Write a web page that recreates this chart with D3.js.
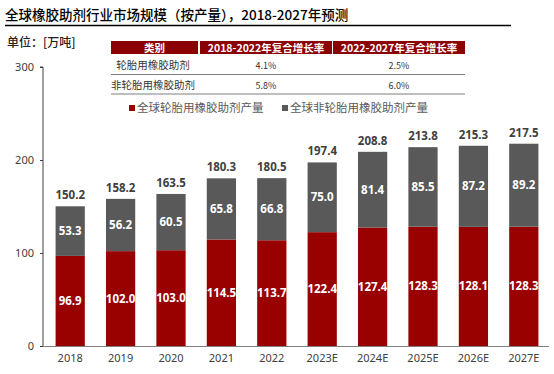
<!DOCTYPE html>
<html><head><meta charset="utf-8">
<script src="https://cdn.jsdelivr.net/npm/d3@7"></script>
<style>
body{margin:0;background:#fff;}
svg{display:block;font-family:"Noto Sans CJK SC","Noto Sans",sans-serif;}
</style></head><body>
<svg id="c" width="554" height="374"></svg>
<script>
const categories = ["2018","2019","2020","2021","2022","2023E","2024E","2025E","2026E","2027E"];
const tireValues = [96.9,102.0,103.0,114.5,113.7,122.4,127.4,128.3,128.1,128.3];
const nonTireValues = [53.3,56.2,60.5,65.8,66.8,75.0,81.4,85.5,87.2,89.2];
const totalValues = [150.2,158.2,163.5,180.3,180.5,197.4,208.8,213.8,215.3,217.5];
const yTicks = [0,100,200,300];
const seriesNames = ["全球轮胎用橡胶助剂产量","全球非轮胎用橡胶助剂产量"];
const tableHeader = ["类别","2018-2022年复合增长率","2022-2027年复合增长率"];
const tableRows = [["轮胎用橡胶助剂","4.1%","2.5%"],["非轮胎用橡胶助剂","5.8%","6.0%"]];

const RED="#990000", GREY="#595959";
const svg=d3.select("#c");

// title
svg.append("text").attr("x",5).attr("y",20).attr("font-size",13.5).attr("font-weight",500).attr("fill","#000")
  .text("全球橡胶助剂行业市场规模（按产量），2018-2027年预测");
svg.append("line").attr("x1",5).attr("x2",511).attr("y1",25.5).attr("y2",25.5).attr("stroke","#000").attr("stroke-width",1.5);
svg.append("text").attr("x",7).attr("y",47).attr("font-size",12).attr("font-weight",500).attr("fill","#222").text("单位：[万吨]");

// table
const colX=[[111,198],[200,332],[333,465]];
colX.forEach((c,i)=>{
  svg.append("rect").attr("x",c[0]).attr("y",41).attr("width",c[1]-c[0]).attr("height",13).attr("fill","#8B0000");
  svg.append("text").attr("x",(c[0]+c[1])/2).attr("y",51.5).attr("text-anchor","middle").attr("font-size",10.5)
    .attr("font-weight","bold").attr("fill","#fff").text(tableHeader[i]);
});
tableRows.forEach((r,j)=>{
  const yText=[69,89][j], yLine=[74.5,94][j];
  r.forEach((t,i)=>{
    svg.append("text").attr("x",i==0?153:(colX[i][0]+colX[i][1])/2).attr("y",yText).attr("text-anchor","middle")
      .attr("font-size",i==0?10.5:9).attr("fill","#333").text(t);
  });
  svg.append("line").attr("x1",111).attr("x2",465).attr("y1",yLine).attr("y2",yLine).attr("stroke","#7f7f7f").attr("stroke-width",1);
});

// legend
[[129,seriesNames[0],RED],[282,seriesNames[1],GREY]].forEach(([x,t,c])=>{
  svg.append("rect").attr("x",x).attr("y",105).attr("width",6).attr("height",6).attr("fill",c);
  svg.append("text").attr("x",x+8).attr("y",112).attr("font-size",11.5).attr("fill","#595959").text(t);
});

// scales
const x=d3.scaleBand().domain(categories).range([45,549]).paddingInner(0.42).paddingOuter(0.21);
const y=d3.scaleLinear().domain([0,300]).range([346,67]);

// axes
const yAxis=svg.append("g").attr("transform","translate(43,0)")
  .call(d3.axisLeft(y).tickValues(yTicks).tickSize(3).tickPadding(6));
yAxis.select(".domain").attr("stroke","#404040").attr("d","M-3,"+y(300)+"H0V"+y(0));
yAxis.selectAll(".tick line").attr("stroke","#404040");
yAxis.selectAll("text").attr("font-size",11).attr("fill","#404040").attr("font-family","Noto Sans, sans-serif");

const xAxis=svg.append("g").attr("transform","translate(0,346)")
  .call(d3.axisBottom(x).tickSize(0).tickPadding(8));
xAxis.select(".domain").attr("stroke","#808080").attr("d","M43,0.5H549");
xAxis.selectAll("text").attr("font-size",11).attr("fill","#404040").attr("font-family","Noto Sans, sans-serif");

// bars
const g=svg.append("g");
categories.forEach((c,i)=>{
  const bx=x(c), bw=x.bandwidth();
  g.append("rect").attr("x",bx).attr("width",bw).attr("y",y(tireValues[i])).attr("height",y(0)-y(tireValues[i])).attr("fill",RED);
  g.append("rect").attr("x",bx).attr("width",bw).attr("y",y(tireValues[i]+nonTireValues[i]))
    .attr("height",y(tireValues[i])-y(tireValues[i]+nonTireValues[i])).attr("fill",GREY);
  const cx=bx+bw/2;
  g.append("text").attr("x",cx).attr("y",y(tireValues[i]/2)+4).attr("text-anchor","middle").attr("font-size",11.5)
    .attr("font-weight","bold").attr("fill","#fff").attr("font-family","Noto Sans, sans-serif").text(tireValues[i].toFixed(1));
  g.append("text").attr("x",cx).attr("y",y(tireValues[i]+nonTireValues[i]/2)+4).attr("text-anchor","middle").attr("font-size",11.5)
    .attr("font-weight","bold").attr("fill","#fff").attr("font-family","Noto Sans, sans-serif").text(nonTireValues[i].toFixed(1));
  g.append("text").attr("x",cx).attr("y",y(tireValues[i]+nonTireValues[i])-7).attr("text-anchor","middle").attr("font-size",11.5)
    .attr("font-weight","bold").attr("fill","#404040").attr("font-family","Noto Sans, sans-serif").text(totalValues[i].toFixed(1));
});
</script></body></html>
